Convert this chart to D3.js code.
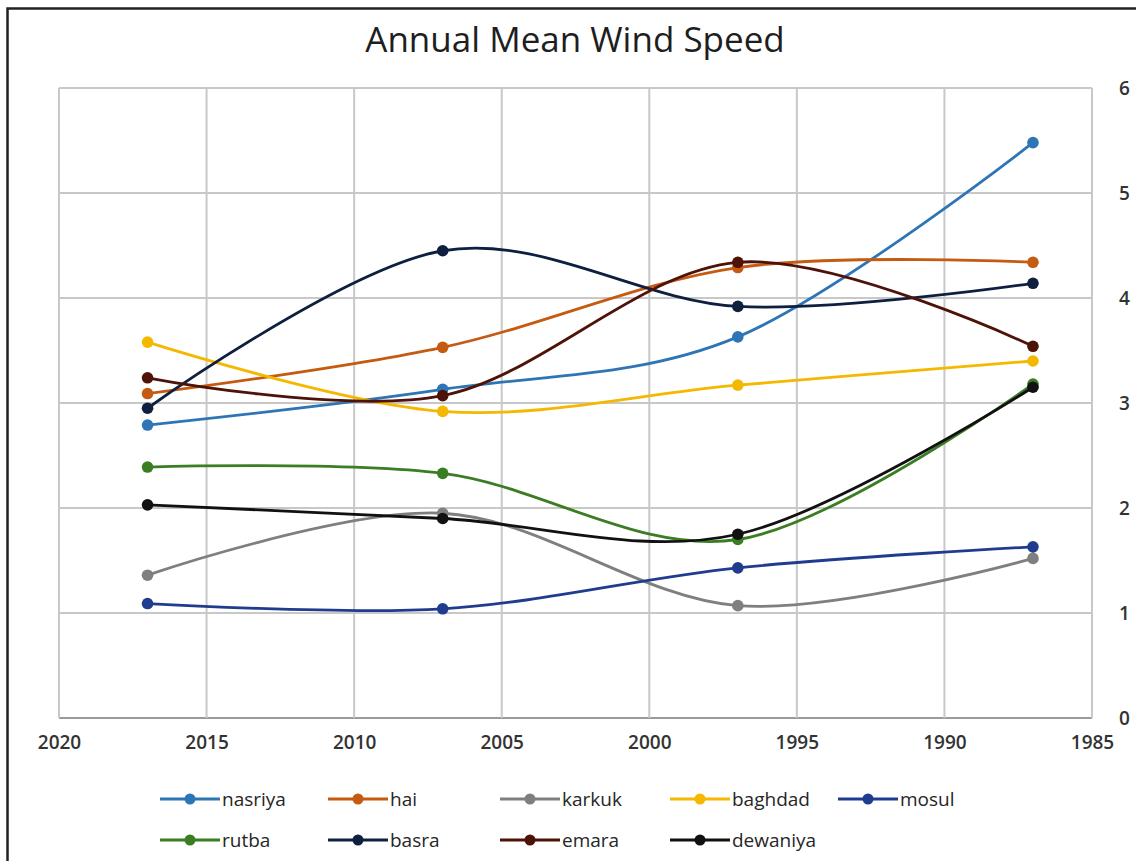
<!DOCTYPE html>
<html>
<head>
<meta charset="utf-8">
<script src="https://cdn.jsdelivr.net/npm/d3@7"></script>
<style>
  html, body { margin: 0; padding: 0; background: #fff; }
  svg { display: block; }
</style>
</head>
<body>
<svg id="chart" width="1136" height="861"></svg>
<script>
// Observation years and annual mean wind speed (m/s) per station
const years = [2017, 2007, 1997, 1987];
const nasriya  = [2.79, 3.13, 3.63, 5.48];
const hai      = [3.09, 3.53, 4.29, 4.34];
const karkuk   = [1.36, 1.95, 1.07, 1.52];
const baghdad  = [3.58, 2.92, 3.17, 3.40];
const mosul    = [1.09, 1.04, 1.43, 1.63];
const rutba    = [2.39, 2.33, 1.70, 3.18];
const basra    = [2.95, 4.45, 3.92, 4.14];
const emara    = [3.24, 3.07, 4.34, 3.54];
const dewaniya = [2.03, 1.90, 1.75, 3.15];

const stationNames = ["nasriya", "hai", "karkuk", "baghdad", "mosul", "rutba", "basra", "emara", "dewaniya"];
const stationValues = [nasriya, hai, karkuk, baghdad, mosul, rutba, basra, emara, dewaniya];
const stationColors = ["#2e75b6", "#c55a11", "#7f7f7f", "#f5b800", "#1f3c8f", "#3b7d23", "#0e1f40", "#4e1208", "#111111"];

const xTicks = [2020, 2015, 2010, 2005, 2000, 1995, 1990, 1985];
const yTicks = [0, 1, 2, 3, 4, 5, 6];

const svg = d3.select("#chart");
const font = "'Open Sans', 'DejaVu Sans', sans-serif";

// outer chart frame
svg.append("rect")
  .attr("x", 7.5).attr("y", 8.5)
  .attr("width", 1150).attr("height", 900)
  .attr("fill", "#fff")
  .attr("stroke", "#222").attr("stroke-width", 2.5);

const plot = { left: 59, right: 1092, top: 88, bottom: 718 };

const x = d3.scaleLinear().domain([2020, 1985]).range([plot.left, plot.right]);
const y = d3.scaleLinear().domain([0, 6]).range([plot.bottom, plot.top]);

// title
svg.append("text")
  .attr("x", 575).attr("y", 52)
  .attr("text-anchor", "middle")
  .attr("font-family", font)
  .attr("font-size", 35)
  .attr("fill", "#1e1e1e")
  .text("Annual Mean Wind Speed");

// gridlines
const grid = svg.append("g");
grid.selectAll("line.h")
  .data(yTicks)
  .join("line")
  .attr("class", "h")
  .attr("x1", plot.left).attr("x2", plot.right)
  .attr("y1", d => y(d)).attr("y2", d => y(d))
  .attr("stroke", d => d === 0 ? "#9a9a9a" : "#c8c8c8")
  .attr("stroke-width", 2);
grid.selectAll("line.v")
  .data(xTicks)
  .join("line")
  .attr("class", "v")
  .attr("x1", d => x(d)).attr("x2", d => x(d))
  .attr("y1", plot.top).attr("y2", plot.bottom)
  .attr("stroke", "#c8c8c8")
  .attr("stroke-width", 2);

// x axis labels
const xAxis = d3.axisBottom(x).tickValues(xTicks).tickFormat(d3.format("d")).tickSize(0).tickPadding(18);
const gx = svg.append("g").attr("transform", `translate(0,${plot.bottom})`).call(xAxis);
gx.select(".domain").remove();
gx.selectAll("text")
  .attr("font-family", font).attr("font-size", 19).attr("font-weight", 600).attr("fill", "#333");

// y axis labels on the right
const yAxis = d3.axisRight(y).tickValues(yTicks).tickFormat(d3.format("d")).tickSize(0).tickPadding(27);
const gy = svg.append("g").attr("transform", `translate(${plot.right},0)`).call(yAxis);
gy.select(".domain").remove();
gy.selectAll("text")
  .attr("font-family", font).attr("font-size", 19).attr("font-weight", 600).attr("fill", "#333");

// smoothed series lines and markers
const line = d3.line()
  .x(d => x(d[0]))
  .y(d => y(d[1]))
  .curve(d3.curveCatmullRom.alpha(0));

const seriesG = svg.append("g");
stationNames.forEach((name, i) => {
  const pts = years.map((yr, j) => [yr, stationValues[i][j]]);
  const g = seriesG.append("g").attr("class", "series " + name);
  g.append("path")
    .datum(pts)
    .attr("d", line)
    .attr("fill", "none")
    .attr("stroke", stationColors[i])
    .attr("stroke-width", 2.8);
  g.selectAll("circle")
    .data(pts)
    .join("circle")
    .attr("cx", d => x(d[0]))
    .attr("cy", d => y(d[1]))
    .attr("r", 5.8)
    .attr("fill", stationColors[i]);
});

// legend
const legendCols = [160, 328, 500, 670, 838];
const legendRows = [799, 840];
const legend = svg.append("g");
stationNames.forEach((name, i) => {
  const cx = legendCols[i % 5];
  const cy = legendRows[Math.floor(i / 5)];
  const item = legend.append("g").attr("transform", `translate(${cx},${cy})`);
  item.append("line")
    .attr("x1", 0).attr("x2", 60).attr("y1", 0).attr("y2", 0)
    .attr("stroke", stationColors[i]).attr("stroke-width", 2.8);
  item.append("circle")
    .attr("cx", 30).attr("cy", 0).attr("r", 5.5)
    .attr("fill", stationColors[i]);
  item.append("text")
    .attr("x", 62).attr("y", 0).attr("dy", "0.35em")
    .attr("font-family", font).attr("font-size", 19)
    .attr("fill", "#262626")
    .text(name);
});
</script>
</body>
</html>
